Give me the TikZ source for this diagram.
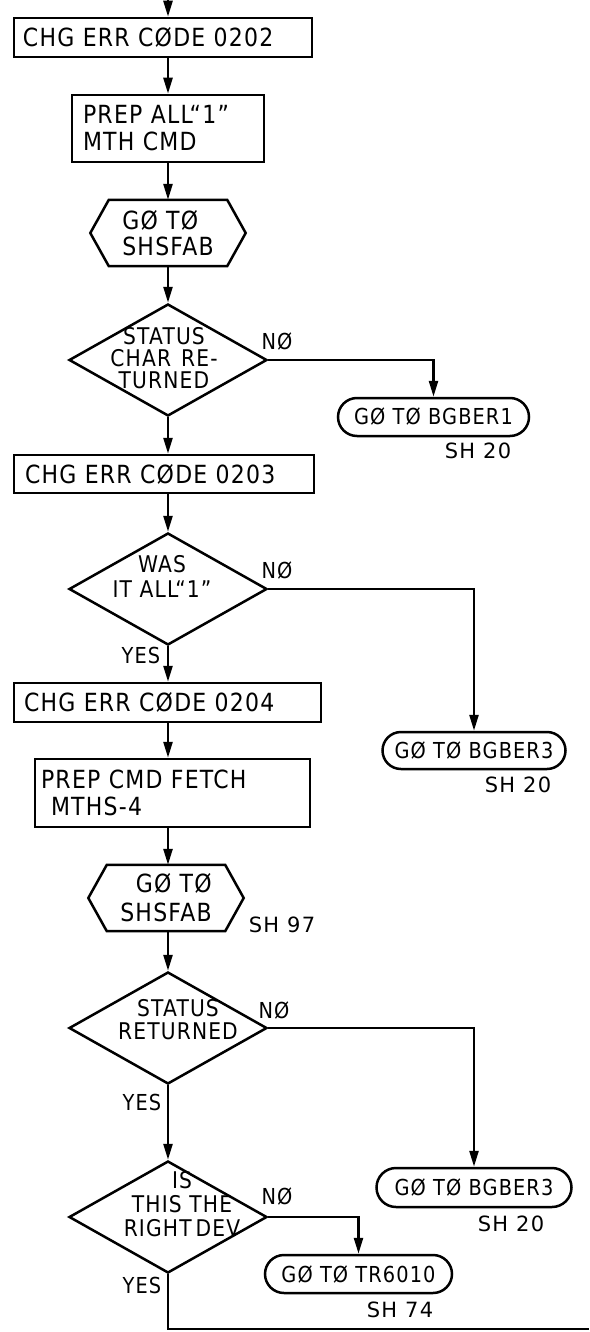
\documentclass[tikz,border=0pt]{standalone}
\usepackage{fontspec}
\newfontfamily\lffam{DejaVu Sans}[FakeStretch=0.88,LetterSpace=5]
\newfontfamily\shfam{DejaVu Sans}[LetterSpace=6]
\usetikzlibrary{shapes.geometric,shapes.misc,arrows.meta}
\begin{document}
\begin{tikzpicture}[x=1pt,y=-1pt,
  ln/.style={line width=2.5pt},
  arr/.style={ln,-{Triangle[length=16pt,width=9pt]}},
  box/.style={draw,line width=2.5pt,rectangle,inner ysep=0pt,align=left,
    font=\lffam\fontsize{25}{27}\selectfont},
  term/.style={draw,line width=2.5pt,rounded rectangle,inner sep=0pt,
    font=\lffam\fontsize{22}{24}\selectfont},
  dia/.style={draw,line width=2.5pt,diamond,minimum width=198pt,minimum height=112pt,inner sep=0pt},
  hexcore/.style={rectangle,minimum width=118pt,minimum height=66pt,inner sep=0pt},
  txt/.style={inner sep=0pt,align=center},
  lbl/.style={inner sep=0pt,font=\lffam\fontsize{22}{22}\selectfont},
  shl/.style={inner sep=0pt,font=\shfam\fontsize{21}{22}\selectfont},
  hexline/.style={line width=2.5pt,line join=miter}
]
\fill[white] (0,0) rectangle (589,1332);
\useasboundingbox (0,0) rectangle (589,1332);

% spine entry and exit
\coordinate (entry) at (168,0);
\coordinate (exit) at (589,1329);

% main column
\node[box,text width=280pt,inner xsep=9pt,minimum height=39pt] (b1) at (163,37.5) {CHG ERR CØDE 0202};
\node[box,text width=170pt,inner xsep=11pt,minimum height=67pt] (b2) at (168,128.5) {PREP ALL“1”\\MTH CMD};
\node[hexcore,align=left,font=\lffam\fontsize{25}{26}\selectfont] (h1) at (168,233) {GØ TØ\\SHSFAB};
\draw[hexline] (h1.north west) -- (h1.north east) -- ([xshift=18.5pt]h1.east) -- (h1.south east) -- (h1.south west) -- ([xshift=-18.5pt]h1.west) -- cycle;
\node[dia] (d1) at (168,360) {};
\node[txt,font=\lffam\fontsize{23}{22}\selectfont] (d1t) at (164,358) {STATUS\\CHAR\hspace{10pt}RE-\\TURNED};
\node[box,text width=278pt,inner xsep=11pt,minimum height=38pt] (b3) at (164,474) {CHG ERR CØDE 0203};
\node[dia] (d2) at (168,589) {};
\node[txt,font=\lffam\fontsize{23}{25}\selectfont] (d2t) at (162,576) {WAS\\IT ALL“1”};
\node[box,text width=287pt,inner xsep=10pt,minimum height=39pt] (b4) at (167.5,702.5) {CHG ERR CØDE 0204};
\node[box,text width=263pt,inner xsep=6pt,minimum height=68pt] (b5) at (172.5,793) {PREP CMD FETCH\\\hspace*{10pt}MTHS-4};
\node[hexcore,align=right,font=\lffam\fontsize{25}{29}\selectfont] (h2) at (166,898) {GØ TØ\\SHSFAB};
\draw[hexline] (h2.north west) -- (h2.north east) -- ([xshift=18.5pt]h2.east) -- (h2.south east) -- (h2.south west) -- ([xshift=-18.5pt]h2.west) -- cycle;
\node[dia] (d3) at (168,1028) {};
\node[txt,font=\lffam\fontsize{23}{23}\selectfont] (d3t) at (178,1020) {STATUS\\RETURNED};
\node[dia] (d4) at (168,1217) {};
\node[txt,font=\lffam\fontsize{23}{24}\selectfont] (d4t) at (182,1204) {IS\\THIS THE\\RIGHT\hspace{4pt}DEV};

% terminals
\node[term,minimum width=191pt,minimum height=38pt] (t1) at (433.5,417) {GØ TØ BGBER1};
\node[term,minimum width=183pt,minimum height=37pt] (t2) at (474,750.5) {GØ TØ BGBER3};
\node[term,minimum width=195pt,minimum height=39pt] (t3) at (474,1187.5) {GØ TØ BGBER3};
\node[term,minimum width=187pt,minimum height=38pt] (t4) at (358.5,1274) {GØ TØ TR6010};

% sheet references
\node[shl] (s1) at (478,451) {SH 20};
\node[shl] (s2) at (518,785) {SH 20};
\node[shl] (s3) at (282,925) {SH 97};
\node[shl] (s4) at (511,1224) {SH 20};
\node[shl] (s5) at (400,1310) {SH 74};

% branch labels
\node[lbl] (n1) at (277,342) {NØ};
\node[lbl] (n2) at (277,570) {NØ};
\node[lbl] (n3) at (274,1010) {NØ};
\node[lbl] (n4) at (277,1196) {NØ};
\node[lbl] (y2) at (141,655) {YES};
\node[lbl] (y3) at (142,1102) {YES};
\node[lbl] (y4) at (142,1285) {YES};

% connectors
\draw[arr] (entry) -- (entry |- b1.north);
\draw[arr] (b1.south -| entry) -- (b2.north -| entry);
\draw[arr] (b2.south -| entry) -- (h1.north -| entry);
\draw[arr] (h1.south -| entry) -- (d1.north);
\draw[arr] (d1.south) -- (b3.north -| entry);
\draw[arr] (b3.south -| entry) -- (d2.north);
\draw[arr] (d2.south) -- (b4.north -| entry);
\draw[arr] (b4.south -| entry) -- (b5.north -| entry);
\draw[arr] (b5.south -| entry) -- (h2.north -| entry);
\draw[arr] (h2.south -| entry) -- (d3.north);
\draw[arr] (d3.south) -- (d4.north);
\draw[ln] (d4.south) |- (exit);

\draw[arr] (d1.east) -| (t1.north);
\draw[arr] (d2.east) -| (t2.north);
\draw[arr] (d3.east) -| (t3.north);
\draw[arr] (d4.east) -| (t4.north);
\end{tikzpicture}
\end{document}
